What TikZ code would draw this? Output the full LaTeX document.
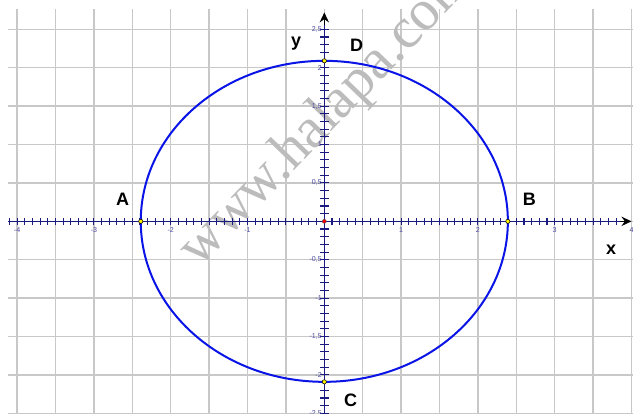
\documentclass[tikz,border=0pt]{standalone}
\usepackage{fontspec}
\setmainfont{Liberation Sans}
\newfontfamily\wmfont{Liberation Serif}
\usetikzlibrary{arrows.meta}
\definecolor{gridgray}{HTML}{C8C8C8}
\definecolor{axisblue}{HTML}{1A1A80}
\definecolor{ticklbl}{HTML}{4A4AA0}
\definecolor{curveblue}{HTML}{0A14E6}
\definecolor{wmgray}{HTML}{BCBCBC}
\begin{document}
\begin{tikzpicture}[x=57.6pt,y=57.6pt,
  gridline/.style={draw=gridgray,line width=1pt},
  axisline/.style={draw=axisblue,line width=1.1pt},
  tickmark/.style={draw=axisblue,line width=0.8pt},
  ticklabel/.style={font=\fontsize{5.3}{6}\selectfont,text=ticklbl,inner sep=0.6pt},
  ptlabel/.style={font=\fontsize{13.5}{14}\selectfont\bfseries,inner sep=0pt},
  dotpt/.style={circle,fill=yellow,draw=black,line width=0.4pt,minimum size=3.2pt,inner sep=0pt},
  origdot/.style={circle,fill=red,draw=black!70,line width=0.3pt,minimum size=3pt,inner sep=0pt},
  wmtext/.style={font=\wmfont\fontsize{43}{43}\selectfont,text=wmgray,inner sep=0pt},
  curve/.style={draw=curveblue,line width=1.5pt},
  arrowtip/.style={-{Stealth[length=7.5pt,width=7pt,inset=2.5pt]}}
  ]
\useasboundingbox[fill=white] (-4.223,-2.496) rectangle (4.0195,2.882);
% grid
\foreach \i in {-8,...,8} \draw[gridline] (\i/2,-2.6) -- (\i/2,2.76);
\foreach \j in {-5,...,5} \draw[gridline] (-4.12,\j/2) -- (4.1,\j/2);
% watermark
\node[wmtext,rotate=46,anchor=base west] (wm) at (-1.628,-0.620) {www.halapa.com};
% axes
\coordinate (xs) at (-4.12,0);
\coordinate (xe) at (4.0,0);
\coordinate (ys) at (0,-2.6);
\coordinate (ye) at (0,2.72);
\draw[axisline] (xs) -- (3.9,0);
\draw[axisline] (ys) -- (0,2.6);
\draw[draw=black,line width=1.1pt,arrowtip] (3.85,0) -- (xe);
\draw[draw=black,line width=1.1pt,arrowtip] (0,2.55) -- (ye);
% ticks
\foreach \k in {-41,...,38} \draw[tickmark] (\k/10,-0.045) -- (\k/10,0.045);
\foreach \k in {-25,...,25} \draw[tickmark] (-0.055,\k/10) -- (0.055,\k/10);
% tick labels
\foreach \v/\t in {-4/-4,-3/-3,-2/-2,-1/-1,1/1,2/2,3/3,4/4}
  \node[ticklabel,anchor=north] (xl\v) at (\v,-0.07) {\t};
\foreach \v/\t/\n in {2.5/{2,5}/a,2/2/b,1.5/{1,5}/c,1/1/d,0.5/{0,5}/e,-0.5/{-0,5}/f,-1/-1/g,-1.5/{-1,5}/h,-2/-2/i,-2.5/{-2,5}/j}
  \node[ticklabel,anchor=east] (yl\n) at (-0.02,\v) {\t};
% ellipse
\draw[curve] (0,0) ellipse [x radius=2.39, y radius=2.09];
% points
\node[origdot] (O) at (0,0) {};
\node[dotpt] (A) at (-2.39,0) {};
\node[dotpt] (B) at (2.39,0) {};
\node[dotpt] (D) at (0,2.09) {};
\node[dotpt] (C) at (0,-2.09) {};
% labels
\node[ptlabel] (ly) at (-0.368,2.31) {y};
\node[ptlabel] (lD) at (0.42,2.295) {D};
\node[ptlabel] (lA) at (-2.625,0.29) {A};
\node[ptlabel] (lB) at (2.67,0.29) {B};
\node[ptlabel] (lx) at (3.733,-0.374) {x};
\node[ptlabel] (lC) at (0.344,-2.33) {C};
\end{tikzpicture}
\end{document}
